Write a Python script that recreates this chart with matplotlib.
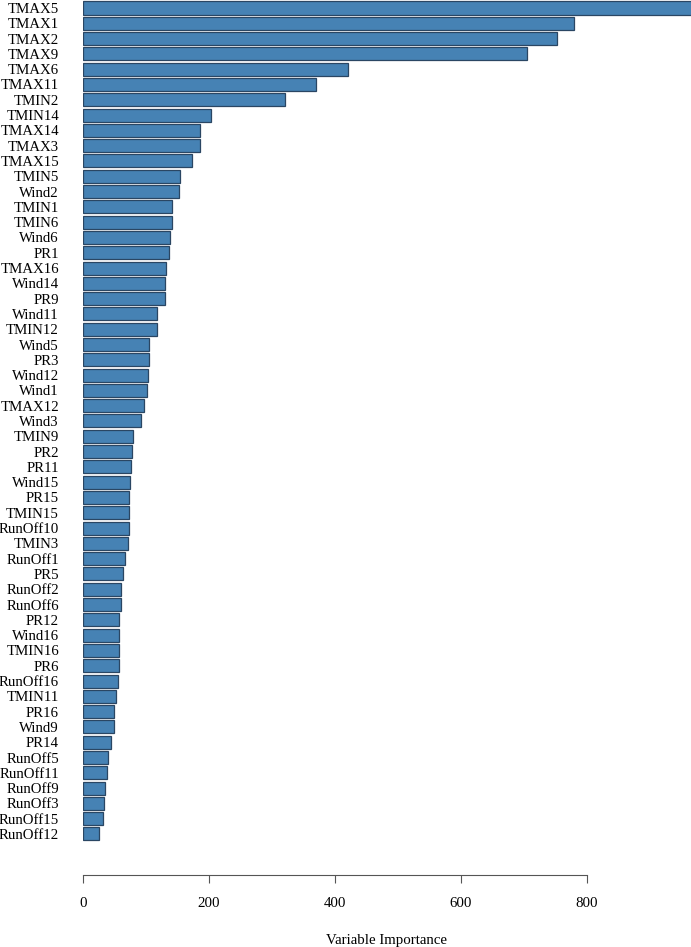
import matplotlib
matplotlib.use("Agg")
import matplotlib.pyplot as plt

labels = ["TMAX5", "TMAX1", "TMAX2", "TMAX9", "TMAX6", "TMAX11", "TMIN2", "TMIN14",
          "TMAX14", "TMAX3", "TMAX15", "TMIN5", "Wind2", "TMIN1", "TMIN6", "Wind6",
          "PR1", "TMAX16", "Wind14", "PR9", "Wind11", "TMIN12", "Wind5", "PR3",
          "Wind12", "Wind1", "TMAX12", "Wind3", "TMIN9", "PR2", "PR11", "Wind15",
          "PR15", "TMIN15", "RunOff10", "TMIN3", "RunOff1", "PR5", "RunOff2",
          "RunOff6", "PR12", "Wind16", "TMIN16", "PR6", "RunOff16", "TMIN11",
          "PR16", "Wind9", "PR14", "RunOff5", "RunOff11", "RunOff9", "RunOff3",
          "RunOff15", "RunOff12"]
importance = [968, 779, 752, 705, 421, 370, 321, 203,
              186, 185, 173, 154, 152, 142, 141, 138,
              136, 131, 130, 130, 117, 117, 105, 104,
              102.6, 101, 97, 91.5, 79, 77, 75.6, 74,
              73.5, 73.5, 72.4, 70.8, 67, 63, 60.8,
              60.8, 57, 57, 56.5, 56.5, 56, 52,
              48.5, 48.5, 43.7, 39, 37.4, 35.4, 32.7,
              31, 24.8]
xticks = [0, 200, 400, 600, 800]

W, H = 691, 947
PT = 0.72  # points per pixel at dpi 100
FS = 10.75
fig = plt.figure(figsize=(W / 100, H / 100), dpi=100)
plt.rcParams['font.family'] = ['Liberation Serif', 'DejaVu Serif']

left_px, right_px, top_px, bottom_px = 83, 691, 0, 850
ax = fig.add_axes([left_px / W, 1 - bottom_px / H, (right_px - left_px) / W, (bottom_px - top_px) / H])

ypos = list(range(len(labels)))
ax.barh(ypos, importance, height=0.85, color='#4682B4', edgecolor='#2a4663', linewidth=0.9)

spacing = 15.296
ax.set_ylim((bottom_px - 8) / spacing, (top_px - 8) / spacing)
ax.set_xlim(0, 965)

ax.set_yticks(ypos)
ax.set_yticklabels(labels, fontsize=FS)
ax.tick_params(axis='y', length=0, pad=24 * PT)

for s in ['top', 'right', 'left']:
    ax.spines[s].set_visible(False)
ax.spines['bottom'].set_position(('outward', 25 * PT))
ax.spines['bottom'].set_bounds(0, 800)
ax.spines['bottom'].set_color('#555555')
ax.set_xticks(xticks)
ax.set_xticklabels([str(t) for t in xticks], fontsize=FS)
ax.tick_params(axis='x', length=8 * PT, width=0.8, color='#555555', pad=14 * PT)
ax.set_xlabel('Variable Importance', fontsize=FS, labelpad=24 * PT)

fig.savefig('out.png', dpi=100)
